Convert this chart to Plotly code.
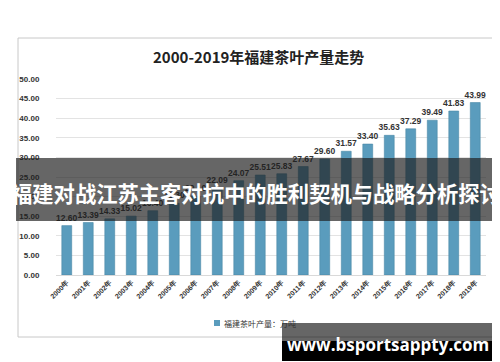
import plotly.graph_objects as go

years = [f"{y}年" for y in range(2000, 2020)]
output = [12.60, 13.39, 14.33, 15.02, 16.40, 18.30, 20.10, 22.09, 24.07, 25.51,
          25.83, 27.67, 29.60, 31.57, 33.40, 35.63, 37.29, 39.49, 41.83, 43.99]
y_ticks = [0, 5, 10, 15, 20, 25, 30, 35, 40, 45, 50]
legend_label = "福建茶叶产量：万吨"

W, H = 500, 362
L, R, T, B = 48, 478, 71, 267  # plot area in pixels


def px(x):
    return (x - L) / (R - L)


def py(y):
    return (B - y) / (B - T)


fig = go.Figure()
fig.add_trace(go.Bar(
    x=years, y=output, name=legend_label, showlegend=False,
    width=0.46,
    marker=dict(color="#5a9cbd", line=dict(color="#4a88a6", width=0.6)),
    text=[f"{v:.2f}" for v in output], textposition="outside",
    textfont=dict(size=8.5, color="#333333", family="Liberation Sans", weight="bold"),
    constraintext="none", cliponaxis=False,
))

fig.update_layout(
    width=W, height=H,
    margin=dict(l=L, r=W - R, t=T, b=H - B),
    paper_bgcolor="white", plot_bgcolor="white",
    font=dict(family="Liberation Sans", color="#333333"),
    showlegend=False,
    bargap=0.5,
    xaxis=dict(type="category", tickangle=-45,
               tickfont=dict(size=7, color="#333333", weight="bold"),
               showline=True, linecolor="#d9d9d9", linewidth=1, ticks="",
               range=[-0.5, 19.5]),
    yaxis=dict(range=[0, 50], tickvals=y_ticks, tickformat=".2f",
               tickfont=dict(size=8, color="#333333", weight="bold"),
               ticks="outside", ticklen=14, tickcolor="white",
               showgrid=True, gridcolor="#e3e3e3", gridwidth=1,
               zeroline=False, showline=False),
)

shapes = [
    # chart border
    dict(type="rect", xref="paper", yref="paper", x0=px(10), x1=px(488), y0=py(329), y1=py(30),
         line=dict(color="#c8c8c8", width=1), fillcolor="rgba(0,0,0,0)", layer="below"),
    # legend swatch
    dict(type="rect", xref="paper", yref="paper", x0=px(206), x1=px(212), y0=py(318), y1=py(312),
         line=dict(width=0), fillcolor="#5a9cbd", layer="above"),
    # banner
    dict(type="rect", xref="paper", yref="paper", x0=px(8), x1=px(492), y0=py(213), y1=py(150),
         line=dict(width=0), fillcolor="rgba(30,30,30,0.68)", layer="above"),
    # watermark
    dict(type="rect", xref="paper", yref="paper", x0=px(274), x1=px(491), y0=py(333), y1=py(315),
         line=dict(width=0), fillcolor="rgba(0,0,0,0.6)", layer="above"),
    dict(type="rect", xref="paper", yref="paper", x0=px(274), x1=px(491), y0=py(353), y1=py(333),
         line=dict(width=0), fillcolor="black", layer="above"),
]
fig.update_layout(shapes=shapes)

fig.add_annotation(text=legend_label, xref="paper", yref="paper",
                   x=px(214), y=py(315), showarrow=False, xanchor="left", yanchor="middle",
                   font=dict(size=8, family="Noto Sans CJK SC", color="#333333"))
fig.add_annotation(text="<b>2000-2019年福建茶叶产量走势</b>", xref="paper", yref="paper",
                   x=px(250), y=py(48), showarrow=False, xanchor="center", yanchor="middle",
                   font=dict(size=15, family="Noto Sans CJK SC", color="#222222"))
fig.add_annotation(text="<b>福建对战江苏主客对抗中的胜利契机与战略分析探讨</b>", xref="paper", yref="paper",
                   x=px(248), y=py(184), showarrow=False, xanchor="center", yanchor="middle",
                   font=dict(size=21.3, family="Noto Sans CJK SC", color="white"))
fig.add_annotation(text="<b>www.bsportsappty.com</b>", xref="paper", yref="paper",
                   x=px(380), y=py(336), showarrow=False, xanchor="center", yanchor="middle",
                   font=dict(size=17, family="Open Sans", color="white"))

fig.write_html("out.html")
